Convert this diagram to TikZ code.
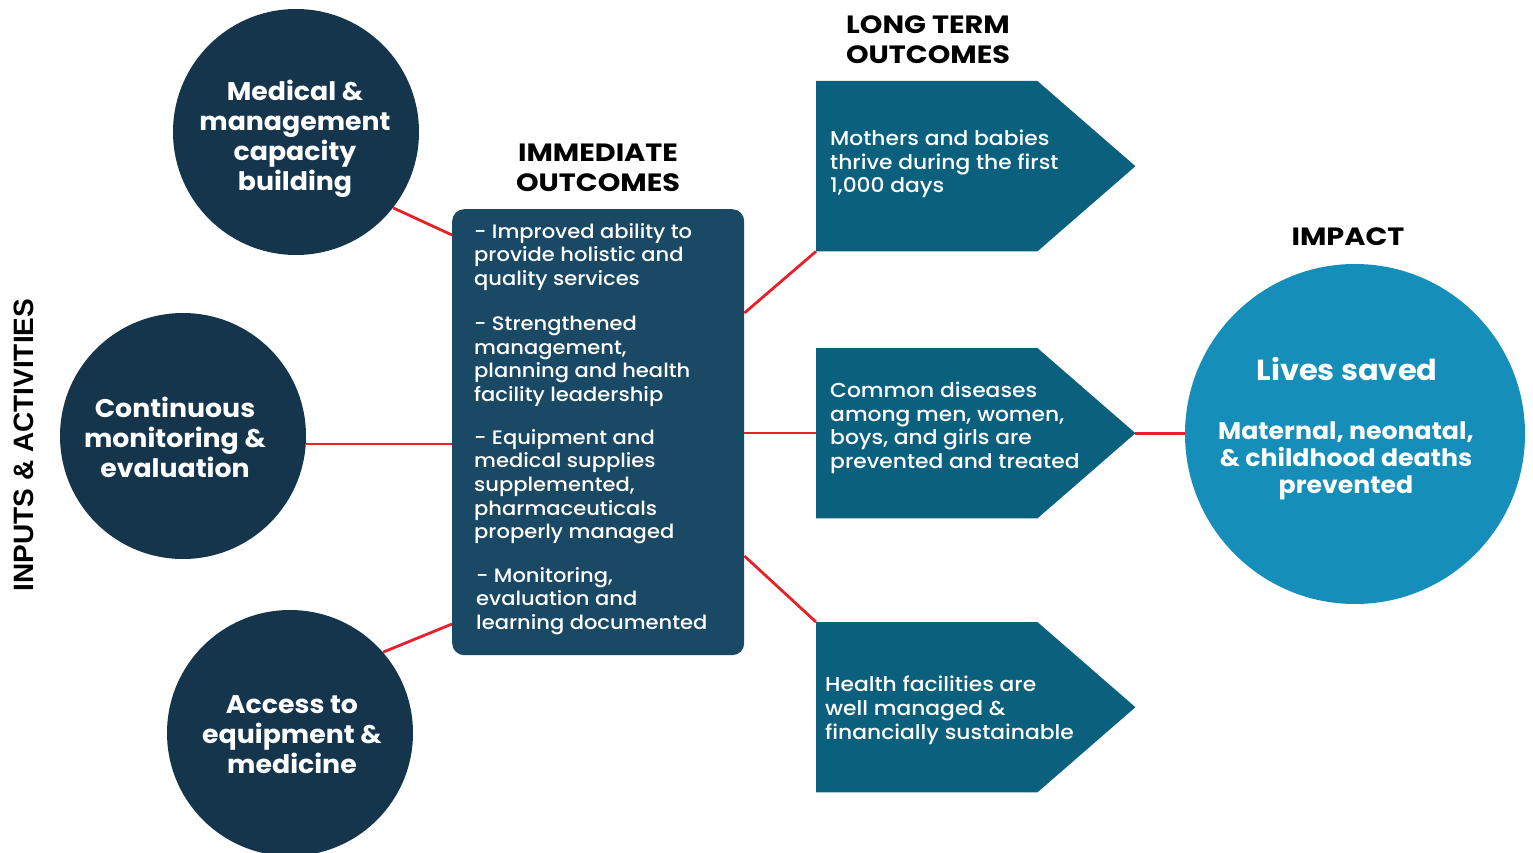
\documentclass[tikz,border=0pt]{standalone}
\usepackage{fontspec}
\setmainfont{Poppins}
\newfontfamily\medfont{Poppins Medium}[FakeStretch=1.08]
\newfontfamily\titlefont{Poppins Bold}[FakeStretch=1.15]
\newfontfamily\circfont{Poppins Bold}[FakeStretch=1.05]
\newfontfamily\arialfont{Liberation Sans Bold}
\definecolor{navy}{HTML}{15354D}
\definecolor{boxc}{HTML}{1A4965}
\definecolor{arrowc}{HTML}{0B607E}
\definecolor{impactc}{HTML}{158FB9}
\definecolor{linkred}{HTML}{E8202A}
\tikzset{
  incircle/.style={circle, fill=navy, minimum size=246pt, inner sep=0pt},
  circtext/.style={text=white, font=\circfont\fontsize{25.5}{30}\selectfont, align=center, inner sep=0pt},
  boxtext/.style={text=white, font=\medfont\fontsize{19.5}{23.6}\selectfont, align=left, inner sep=0pt, anchor=north west},
  arrtext/.style={boxtext, font=\medfont\fontsize{20.2}{23.6}\selectfont},
  title/.style={text=black, font=\titlefont\fontsize{25}{30}\selectfont, align=center, inner sep=0pt},
  link/.style={draw=linkred, line width=2.8pt},
  ltframe/.style={minimum width=221pt, minimum height=170pt, inner sep=0pt, anchor=north west},
}
\begin{document}
\begin{tikzpicture}[x=1pt,y=-1pt]
\useasboundingbox (0,0) rectangle (1533,853);
\clip (0,0) rectangle (1533,853);

% input circles
\node[incircle] (c1) at (296,132) {};
\node[incircle] (c2) at (183,436) {};
\node[incircle] (c3) at (290,733) {};
\node[circtext] (t1) at (295,139) {Medical \&\\management\\capacity\\building};
\node[circtext] (t2) at (175,437) {Continuous\\monitoring \&\\evaluation};
\node[circtext] (t3) at (292,735) {Access to\\equipment \&\\medicine};

% immediate outcomes box
\node[fill=boxc, rounded corners=12pt, minimum width=292pt, minimum height=446pt, inner sep=0pt, anchor=north west] (imm) at (452,209) {};
\node[title] (immt) at (598,168) {IMMEDIATE\\OUTCOMES};
\node[boxtext] (b1) at (474,223) {- Improved ability to\\provide holistic and\\quality services};
\node[boxtext] (b2) at (474,316) {- Strengthened\\management,\\planning and health\\facility leadership};
\node[boxtext] (b3) at (474,429) {- Equipment and\\medical supplies\\supplemented,\\pharmaceuticals\\properly managed};
\node[boxtext] (b4) at (476,567) {- Monitoring,\\evaluation and\\learning documented};

% long-term outcome arrows
\node[ltframe] (lt1) at (816,81) {};
\node[ltframe] (lt2) at (816,348) {};
\node[ltframe] (lt3) at (816,622) {};
\foreach \n in {lt1,lt2,lt3}{
  \fill[arrowc] (\n.north west) -- (\n.north east) -- ([xshift=98pt]\n.east) -- (\n.south east) -- (\n.south west) -- cycle;
}
\coordinate (tip2) at ([xshift=98pt]lt2.east);
\node[title] (ltt) at (928,40) {LONG TERM\\OUTCOMES};
\node[arrtext] (a1) at (830,130) {Mothers and babies\\thrive during the first\\1,000 days};
\node[arrtext] (a2) at (830,382) {Common diseases\\among men, women,\\boys, and girls are\\prevented and treated};
\node[arrtext] (a3) at (825,676) {Health facilities are\\well managed \&\\financially sustainable};

% impact
\node[circle, fill=impactc, minimum size=340pt, inner sep=0pt] (imp) at (1355,434) {};
\node[title] (impt) at (1348,237) {IMPACT};
\node[text=white, font=\circfont\fontsize{29}{34}\selectfont, inner sep=0pt] (lives) at (1347,369) {Lives saved};
\node[text=white, font=\circfont\fontsize{24}{27}\selectfont, align=center, inner sep=0pt] (mat) at (1346,461) {Maternal, neonatal,\\\& childhood deaths\\prevented};

% side label
\node[rotate=90, font=\arialfont\fontsize{28}{32}\selectfont, inner sep=0pt] (side) at (24,445) {INPUTS \& ACTIVITIES};

% connectors
\draw[link] (c1.-38) -- (imm.north west |- 0,235);
\draw[link] (c2.east |- 0,444) -- (imm.west |- 0,444);
\draw[link] (c3.41) -- (imm.west |- 0,624);
\draw[link] (imm.east |- 0,313) -- (lt1.south west);
\draw[link] (imm.east |- 0,433) -- (lt2.west |- 0,433);
\draw[link] (imm.east |- 0,556) -- (lt3.north west);
\draw[link] (tip2) -- (tip2 -| imp.west);
\end{tikzpicture}
\end{document}
